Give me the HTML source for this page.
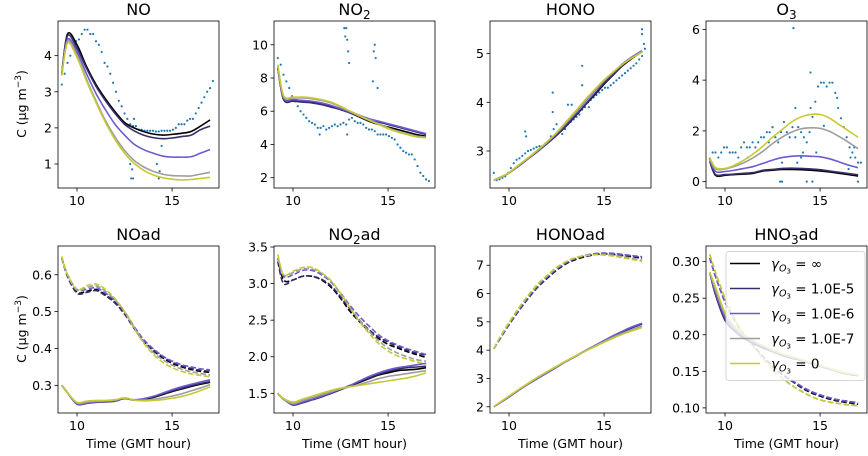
<!DOCTYPE html>
<html><head><meta charset="utf-8"><style>
html,body{margin:0;padding:0;background:#fff}
svg{display:block;font-family:"DejaVu Sans","Liberation Sans",sans-serif}
</style></head><body>
<svg id="fig" width="868" height="456" viewBox="0 0 868 456" xmlns="http://www.w3.org/2000/svg"></svg>
<script>
const T=[9.2,9.5,10,10.5,11,11.5,12,12.5,13,13.5,14,14.5,15,15.5,16,16.5,17];
const OBS_T=[9.2,9.35,9.5,9.65,9.8,9.95,10.1,10.25,10.4,10.55,10.7,10.85,11.0,11.15,11.3,11.45,11.6,11.75,11.9,12.05,12.2,12.35,12.5,12.65,12.8,12.95,13.1,13.25,13.4,13.55,13.7,13.85,14.0,14.15,14.3,14.45,14.6,14.75,14.9,15.05,15.2,15.35,15.5,15.65,15.8,15.95,16.1,16.25,16.4,16.55,16.7,16.85,17.0,17.15];
const SERIES_NAMES=["∞","1.0E-5","1.0E-6","1.0E-7","0"];
const COLORS=["#000000","#3b2d6c","#6a5cd0","#9e9e9e","#c8c834"];

const noObs=[3.2,3.5,3.8,4.0,4.2,4.4,4.45,4.6,4.72,4.72,4.6,4.6,4.4,4.3,4.1,3.8,3.7,3.5,3.25,3.0,2.75,2.6,2.4,2.25,2.1,2.05,2.05,1.95,1.95,1.92,1.92,1.92,1.92,1.9,1.9,1.92,1.92,1.92,1.92,1.95,2.0,2.1,2.1,2.1,2.2,2.25,2.25,2.4,2.55,2.7,2.85,3.0,3.1,3.3];
const noOut=[[12.8,1.0],[12.85,0.6],[12.95,0.6],[12.9,0.85],[14.2,1.0],[14.3,0.6],[14.35,0.8],[14.45,1.5],[13.0,2.25]];
const noModel=[
[3.5,4.6,4.3,3.7,3.2,2.8,2.45,2.15,2.0,1.9,1.83,1.8,1.82,1.85,1.9,2.05,2.22],
[3.5,4.55,4.2,3.65,3.15,2.75,2.4,2.1,1.92,1.8,1.73,1.7,1.72,1.76,1.8,1.95,2.05],
[3.5,4.45,4.1,3.5,2.95,2.5,2.1,1.8,1.55,1.4,1.3,1.22,1.19,1.19,1.2,1.3,1.4],
[3.45,4.4,4.0,3.35,2.75,2.2,1.75,1.38,1.1,0.92,0.8,0.72,0.68,0.67,0.67,0.72,0.77],
[3.45,4.35,3.95,3.3,2.7,2.15,1.68,1.3,1.02,0.83,0.7,0.62,0.58,0.56,0.57,0.6,0.63]];

const no2Obs=[9.2,8.8,8.2,7.8,7.4,6.9,6.6,6.3,6.0,5.8,5.6,5.4,5.3,5.2,5.0,5.0,5.1,4.9,5.0,5.1,5.2,5.1,5.2,5.3,5.2,5.5,5.6,5.4,5.3,5.3,5.2,5.0,4.9,4.9,4.8,4.6,4.6,4.6,4.6,4.5,4.4,4.3,4.0,3.8,3.6,3.5,3.4,3.4,3.1,2.7,2.3,2.1,1.9,1.8];
const no2Out=[[12.7,11.0],[12.75,10.5],[12.85,10.3],[12.9,9.6],[12.95,8.9],[12.8,11.0],[14.2,7.8],[14.3,10.0],[14.25,9.6],[14.35,9.2],[14.45,7.4],[12.85,4.6],[11.4,4.6]];
const no2Model=[
[8.6,6.8,6.65,6.6,6.55,6.45,6.3,6.1,5.9,5.65,5.4,5.2,5.05,4.9,4.75,4.6,4.5],
[8.6,6.7,6.6,6.55,6.5,6.4,6.25,6.1,5.9,5.7,5.5,5.35,5.2,5.05,4.9,4.75,4.6],
[8.7,6.8,6.7,6.65,6.6,6.5,6.35,6.15,5.95,5.75,5.55,5.4,5.25,5.1,4.95,4.8,4.65],
[8.7,6.9,6.8,6.8,6.75,6.65,6.5,6.25,6.0,5.75,5.5,5.25,5.0,4.8,4.65,4.5,4.45],
[8.8,6.95,6.85,6.85,6.8,6.7,6.55,6.3,6.0,5.7,5.45,5.2,4.95,4.75,4.6,4.45,4.4]];

const honoObs=[2.55,2.4,2.42,2.45,2.48,2.55,2.65,2.75,2.82,2.85,2.9,2.95,3.0,3.02,3.05,3.08,3.1,3.1,3.15,3.2,3.3,3.45,3.55,3.4,3.35,3.45,3.55,3.6,3.65,3.7,3.75,3.85,3.9,4.0,4.05,4.1,4.15,4.2,4.25,4.3,4.3,4.35,4.4,4.45,4.5,4.55,4.6,4.65,4.7,4.75,4.8,4.88,4.95,5.1];
const honoOut=[[10.85,3.4],[10.9,3.3],[12.3,4.2],[12.3,3.8],[13.85,4.75],[13.85,4.35],[13.1,3.95],[13.3,3.95],[17.0,5.5],[17.0,5.4],[17.1,5.2],[15.0,4.4],[14.2,3.9]];
const honoModel=[
[2.4,2.45,2.55,2.69,2.84,2.99,3.15,3.32,3.51,3.72,3.94,4.15,4.37,4.57,4.76,4.91,5.04],
[2.4,2.45,2.55,2.69,2.84,2.99,3.15,3.33,3.52,3.73,3.95,4.17,4.39,4.58,4.77,4.92,5.05],
[2.4,2.45,2.55,2.7,2.85,3.0,3.17,3.35,3.56,3.78,4.01,4.23,4.44,4.62,4.8,4.94,5.06],
[2.4,2.45,2.55,2.7,2.85,3.01,3.18,3.37,3.58,3.8,4.03,4.25,4.45,4.62,4.79,4.92,5.04],
[2.4,2.45,2.56,2.71,2.86,3.02,3.19,3.38,3.6,3.82,4.05,4.26,4.46,4.63,4.79,4.92,5.03]];

const o3Obs=[0.9,1.15,1.15,0.95,1.15,1.35,1.35,1.15,1.15,1.15,0.95,1.35,1.55,1.35,1.35,1.55,1.35,1.55,1.75,1.75,1.95,1.95,2.15,1.75,1.55,1.95,2.35,1.95,1.75,2.15,1.75,2.15,1.95,1.75,1.55,1.95,2.55,3.15,3.75,3.9,3.9,3.75,3.9,3.9,3.5,2.9,2.5,2.15,1.75,1.35,1.15,0.95,0.75,0.75];
const o3Out=[[12.9,0],[13.0,0],[14.3,0],[14.6,0],[13.6,6.05],[14.5,4.3],[14.5,2.9],[13.7,2.9],[14.0,0.95],[13.0,0.75],[14.1,1.15],[16.5,0.5],[17.0,0],[15.9,3.3],[16.8,1.35],[16.6,0.95],[12.3,1.55],[11.2,0.95],[13.8,0.75],[14.8,1.15],[15.2,2.2]];
const o3Model=[
[0.8,0.25,0.25,0.28,0.3,0.33,0.42,0.45,0.48,0.48,0.47,0.45,0.42,0.38,0.33,0.28,0.22],
[0.8,0.28,0.28,0.3,0.33,0.36,0.45,0.48,0.52,0.53,0.52,0.5,0.47,0.42,0.37,0.32,0.27],
[0.85,0.4,0.4,0.45,0.52,0.6,0.72,0.85,0.95,1.0,1.02,1.0,0.98,0.9,0.78,0.65,0.55],
[0.9,0.5,0.5,0.6,0.75,0.95,1.2,1.5,1.75,1.95,2.08,2.12,2.1,1.98,1.78,1.55,1.3],
[0.95,0.55,0.52,0.65,0.85,1.1,1.4,1.75,2.05,2.35,2.55,2.65,2.65,2.5,2.25,2.0,1.75]];

const noadDash=[
[0.645,0.6,0.553,0.555,0.56,0.545,0.525,0.495,0.455,0.42,0.395,0.375,0.36,0.35,0.343,0.338,0.335],
[0.645,0.595,0.55,0.552,0.557,0.543,0.523,0.493,0.455,0.42,0.397,0.378,0.363,0.353,0.346,0.341,0.338],
[0.645,0.6,0.56,0.56,0.565,0.55,0.53,0.5,0.46,0.425,0.4,0.38,0.366,0.356,0.35,0.345,0.342],
[0.645,0.6,0.558,0.565,0.57,0.555,0.532,0.5,0.458,0.418,0.39,0.37,0.355,0.344,0.337,0.332,0.328],
[0.65,0.6,0.56,0.57,0.575,0.56,0.535,0.5,0.455,0.415,0.385,0.363,0.348,0.338,0.331,0.327,0.323]];
const noadSolid=[
[0.3,0.28,0.25,0.252,0.255,0.256,0.258,0.265,0.26,0.262,0.267,0.275,0.283,0.29,0.297,0.303,0.308],
[0.3,0.28,0.249,0.251,0.254,0.255,0.257,0.264,0.26,0.263,0.269,0.277,0.285,0.292,0.299,0.305,0.31],
[0.3,0.28,0.25,0.252,0.255,0.256,0.258,0.265,0.261,0.264,0.27,0.279,0.288,0.296,0.303,0.309,0.315],
[0.3,0.28,0.252,0.255,0.257,0.258,0.26,0.266,0.26,0.26,0.262,0.266,0.271,0.277,0.285,0.293,0.302],
[0.3,0.28,0.254,0.257,0.259,0.259,0.261,0.266,0.26,0.258,0.259,0.261,0.265,0.27,0.277,0.286,0.296]];

const no2adDash=[
[3.35,3.05,3.05,3.1,3.1,3.05,2.95,2.8,2.62,2.48,2.35,2.25,2.17,2.12,2.07,2.03,1.99],
[3.3,3.0,3.05,3.1,3.1,3.06,2.97,2.82,2.65,2.5,2.37,2.27,2.2,2.14,2.09,2.05,2.02],
[3.35,3.1,3.12,3.18,3.18,3.12,3.02,2.87,2.7,2.55,2.42,2.3,2.22,2.16,2.11,2.07,2.03],
[3.35,3.12,3.15,3.2,3.2,3.14,3.03,2.86,2.67,2.5,2.35,2.22,2.12,2.05,2.0,1.96,1.94],
[3.4,3.12,3.17,3.22,3.22,3.15,3.04,2.87,2.67,2.48,2.32,2.18,2.08,2.01,1.97,1.93,1.9]];
const no2adSolid=[
[1.5,1.42,1.35,1.38,1.42,1.46,1.5,1.55,1.6,1.65,1.7,1.75,1.78,1.81,1.82,1.83,1.85],
[1.5,1.42,1.34,1.37,1.41,1.45,1.5,1.55,1.6,1.66,1.71,1.76,1.8,1.83,1.85,1.86,1.87],
[1.5,1.42,1.35,1.38,1.42,1.46,1.51,1.56,1.61,1.67,1.73,1.78,1.82,1.85,1.87,1.89,1.91],
[1.5,1.42,1.36,1.4,1.44,1.48,1.52,1.56,1.59,1.62,1.66,1.7,1.73,1.75,1.77,1.79,1.81],
[1.5,1.43,1.38,1.42,1.46,1.5,1.54,1.57,1.59,1.61,1.63,1.65,1.67,1.69,1.71,1.74,1.78]];

const honoadDash=[
[4.05,4.38,4.9,5.38,5.82,6.22,6.53,6.82,7.05,7.2,7.3,7.37,7.4,7.38,7.34,7.3,7.25],
[4.05,4.38,4.9,5.38,5.83,6.23,6.55,6.84,7.07,7.22,7.32,7.38,7.41,7.4,7.36,7.32,7.28],
[4.05,4.4,4.93,5.42,5.87,6.27,6.59,6.87,7.1,7.25,7.35,7.41,7.43,7.42,7.38,7.34,7.3],
[4.05,4.42,4.96,5.46,5.91,6.31,6.62,6.9,7.12,7.26,7.34,7.38,7.38,7.35,7.3,7.24,7.18],
[4.05,4.43,4.98,5.48,5.93,6.33,6.64,6.92,7.13,7.27,7.34,7.37,7.36,7.32,7.26,7.2,7.14]];
const honoadSolid=[
[2.0,2.13,2.35,2.58,2.8,3.0,3.2,3.4,3.6,3.78,3.97,4.15,4.33,4.5,4.66,4.8,4.93],
[2.0,2.13,2.35,2.58,2.8,3.0,3.2,3.4,3.6,3.78,3.97,4.15,4.33,4.5,4.66,4.8,4.93],
[2.0,2.13,2.35,2.58,2.8,3.0,3.2,3.4,3.6,3.79,3.98,4.16,4.34,4.52,4.68,4.83,4.95],
[2.0,2.14,2.37,2.6,2.82,3.03,3.23,3.42,3.61,3.79,3.97,4.14,4.3,4.46,4.6,4.73,4.85],
[2.0,2.15,2.38,2.61,2.83,3.04,3.24,3.43,3.62,3.79,3.96,4.12,4.28,4.43,4.57,4.69,4.8]];

const hno3adDash=[
[0.305,0.28,0.245,0.22,0.2,0.185,0.17,0.157,0.146,0.137,0.128,0.121,0.116,0.112,0.109,0.107,0.105],
[0.305,0.28,0.245,0.22,0.2,0.185,0.17,0.157,0.146,0.137,0.129,0.122,0.117,0.113,0.11,0.108,0.106],
[0.305,0.28,0.245,0.22,0.2,0.185,0.17,0.158,0.147,0.138,0.13,0.123,0.118,0.114,0.111,0.109,0.107],
[0.31,0.285,0.25,0.222,0.2,0.183,0.167,0.153,0.141,0.131,0.123,0.116,0.111,0.108,0.106,0.104,0.103],
[0.31,0.285,0.25,0.222,0.2,0.183,0.167,0.153,0.141,0.131,0.123,0.116,0.111,0.108,0.106,0.104,0.103]];
const hno3adSolid=[
[0.285,0.255,0.22,0.205,0.195,0.188,0.182,0.177,0.172,0.168,0.165,0.161,0.157,0.153,0.149,0.146,0.144],
[0.285,0.255,0.22,0.205,0.195,0.188,0.182,0.177,0.172,0.168,0.165,0.161,0.157,0.153,0.149,0.146,0.144],
[0.285,0.258,0.224,0.208,0.197,0.19,0.184,0.178,0.173,0.169,0.166,0.162,0.158,0.154,0.15,0.147,0.145],
[0.285,0.262,0.228,0.21,0.199,0.191,0.185,0.179,0.174,0.17,0.166,0.162,0.158,0.154,0.15,0.147,0.145],
[0.285,0.265,0.23,0.212,0.2,0.192,0.185,0.179,0.174,0.17,0.166,0.162,0.158,0.154,0.15,0.147,0.145]];

const NS="http://www.w3.org/2000/svg";
const fig=document.getElementById('fig');
function el(tag,attrs,parent){const e=document.createElementNS(NS,tag);for(const k in attrs)e.setAttribute(k,attrs[k]);(parent||fig).appendChild(e);return e;}
function smooth(pts){let d='M'+pts[0][0].toFixed(2)+','+pts[0][1].toFixed(2);
 for(let i=0;i<pts.length-1;i++){const p0=pts[Math.max(0,i-1)],p1=pts[i],p2=pts[i+1],p3=pts[Math.min(pts.length-1,i+2)];
  const c1=[p1[0]+(p2[0]-p0[0])/6,p1[1]+(p2[1]-p0[1])/6],c2=[p2[0]-(p3[0]-p1[0])/6,p2[1]-(p3[1]-p1[1])/6];
  d+='C'+c1[0].toFixed(2)+','+c1[1].toFixed(2)+' '+c2[0].toFixed(2)+','+c2[1].toFixed(2)+' '+p2[0].toFixed(2)+','+p2[1].toFixed(2);}
 return d;}
const COLS=[[58,219],[274,435],[490,651],[706,867]];
const ROWS=[[21,188],[246,413]];
const XLIM=[9.0,17.47];
let clipId=0;
function panel(name,col,row,ylim,yticks,dec,titleParts){
 const [x0,x1]=COLS[col],[y0,y1]=ROWS[row];
 const sx=v=>x0+(v-XLIM[0])/(XLIM[1]-XLIM[0])*(x1-x0);
 const sy=v=>y1-(v-ylim[0])/(ylim[1]-ylim[0])*(y1-y0);
 const g=el('g',{});
 
 
 const cid='clip'+(clipId++);
 const cp=el('clipPath',{id:cid},g);el('rect',{x:x0,y:y0,width:x1-x0,height:y1-y0},cp);
 const plot=el('g',{'clip-path':'url(#'+cid+')'},g);
 
 
 // title
 const tt=el('text',{x:(x0+x1)/2,y:y0-6,'text-anchor':'middle','font-size':16,fill:'#000'},g);
 
 
 titleParts.forEach(p=>{const s=el('tspan',p.sub?{'font-size':12,dy:4}:(p.up?{dy:-4}:{}),tt);s.textContent=p.t;});
 // ticks
 [10,15].forEach(v=>{const x=sx(v);el('line',{x1:x,x2:x,y1:y1,y2:y1+3.5,stroke:'#000','stroke-width':0.8},g);
  const t=el('text',{x:x,y:y1+17,'text-anchor':'middle','font-size':12.5,fill:'#000'},g);t.textContent=String(v);
  
  });
 yticks.forEach(v=>{const y=sy(v);el('line',{x1:x0-3.5,x2:x0,y1:y,y2:y,stroke:'#000','stroke-width':0.8},g);
  const t=el('text',{x:x0-6,y:y+4.5,'text-anchor':'end','font-size':12.5,fill:'#000'},g);t.textContent=v.toFixed(dec);
  
  });
 return {sx,sy,plot,g,x0,x1,y0,y1};
}
function frame(P){const r=el('rect',{x:P.x0,y:P.y0,width:P.x1-P.x0,height:P.y1-P.y0,fill:'none',stroke:'#000','stroke-width':0.8},P.g);
 
 }
function dots(P,ts,vs,extra){const g=el('g',{fill:'#1f77b4'},P.plot);
 
 
 ts.forEach((t,i)=>{if(vs[i]==null)return;el('circle',{cx:P.sx(t),cy:P.sy(vs[i]),r:1.1},g);});
 extra.forEach(p=>{el('circle',{cx:P.sx(p[0]),cy:P.sy(p[1]),r:1.1},g);});}
function lines(P,model,dashed){model.forEach((vals,k)=>{
 const pts=T.map((t,i)=>[P.sx(t),P.sy(vals[i])]);
 const a={d:smooth(pts),fill:'none',stroke:COLORS[k],'stroke-width':1.6,'stroke-linejoin':'round'};
 if(dashed){a['stroke-dasharray']='5.5,2.4';}
 const p=el('path',a,P.plot);
 
 });}

let P;
P=panel('no',0,0,[0.335,4.96],[1,2,3,4],0,[{t:'NO'}]);dots(P,OBS_T,noObs,noOut);lines(P,noModel,false);frame(P);
P=panel('no2',1,0,[1.38,11.43],[2,4,6,8,10],0,[{t:'NO'},{t:'2',sub:true}]);dots(P,OBS_T,no2Obs,no2Out);lines(P,no2Model,false);frame(P);
P=panel('hono',2,0,[2.24,5.67],[3,4,5],0,[{t:'HONO'}]);dots(P,OBS_T,honoObs,honoOut);lines(P,honoModel,false);frame(P);
P=panel('o3',3,0,[-0.25,6.33],[0,2,4,6],0,[{t:'O'},{t:'3',sub:true}]);dots(P,OBS_T,o3Obs,o3Out);lines(P,o3Model,false);frame(P);
P=panel('noad',0,1,[0.225,0.678],[0.3,0.4,0.5,0.6],1,[{t:'NOad'}]);lines(P,noadDash,true);lines(P,noadSolid,false);frame(P);
P=panel('no2ad',1,1,[1.231,3.514],[1.5,2.0,2.5,3.0,3.5],1,[{t:'NO'},{t:'2',sub:true},{t:'ad',up:true}]);lines(P,no2adDash,true);lines(P,no2adSolid,false);frame(P);
P=panel('honoad',2,1,[1.78,7.68],[2,3,4,5,6,7],0,[{t:'HONOad'}]);lines(P,honoadDash,true);lines(P,honoadSolid,false);frame(P);
P=panel('hno3ad',3,1,[0.093,0.3214],[0.10,0.15,0.20,0.25,0.30],2,[{t:'HNO'},{t:'3',sub:true},{t:'ad',up:true}]);lines(P,hno3adDash,true);lines(P,hno3adSolid,false);frame(P);

// legend
const lg=el('g',{});


el('rect',{x:726,y:251.5,width:139,height:129,rx:3,fill:'#fff','fill-opacity':0.8,stroke:'#cccccc','stroke-width':0.8},lg);
SERIES_NAMES.forEach((n,k)=>{const y=263.5+k*25;
 const e=el('g',{},lg);
 
 
 el('line',{x1:730,x2:760,y1:y,y2:y,stroke:COLORS[k],'stroke-width':1.6},e);
 const t=el('text',{x:771,y:y+5,'font-size':13.5,fill:'#000'},e);
 const a=el('tspan',{'font-style':'italic'},t);a.textContent='γ';
 const b=el('tspan',{'font-size':9.5,'font-style':'italic',dy:3},t);b.textContent='O';
 const c=el('tspan',{'font-size':7,dy:2},t);c.textContent='3';
 const d=el('tspan',{dy:-5},t);d.textContent=' = '+n;});

// axis labels
function ylab(cy){const t=el('text',{x:0,y:0,'text-anchor':'middle','font-size':12.5,fill:'#000',transform:'translate(26,'+cy+') rotate(-90)'});
 
 
 const a=el('tspan',{},t);a.textContent='C (µg m';const b=el('tspan',{'font-size':9,dy:-5},t);b.textContent='−3';const c=el('tspan',{dy:5},t);c.textContent=')';}
ylab(104);ylab(329);
COLS.forEach(c=>{const t=el('text',{x:(c[0]+c[1])/2,y:448,'text-anchor':'middle','font-size':12.5,fill:'#000'});t.textContent='Time (GMT hour)';
 
 });
</script>
</body></html>
